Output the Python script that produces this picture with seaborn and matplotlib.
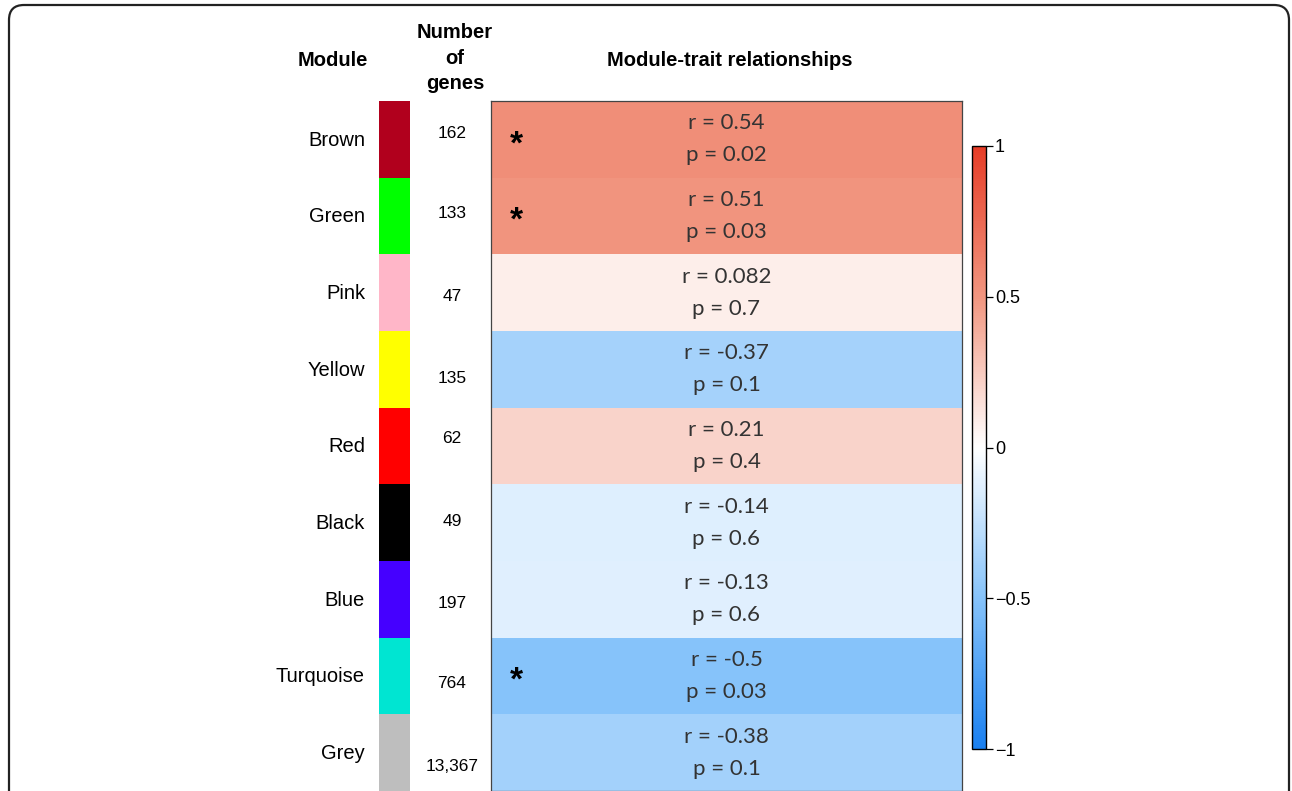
import numpy as np
import pandas as pd
import seaborn as sns
import matplotlib.pyplot as plt
from matplotlib.colors import LinearSegmentedColormap, ListedColormap
from matplotlib.patches import FancyBboxPatch
from matplotlib.transforms import blended_transform_factory

# data
modules = ["Brown", "Green", "Pink", "Yellow", "Red", "Black", "Blue", "Turquoise", "Grey"]
module_colors = ["#b1001d", "#00ff00", "#ffb6c8", "#ffff00", "#ff0000",
                 "#000000", "#4500ff", "#00e5d2", "#bebebe"]
gene_counts = ["162", "133", "47", "135", "62", "49", "197", "764", "13,367"]
r_values = [0.54, 0.51, 0.082, -0.37, 0.21, -0.14, -0.13, -0.5, -0.38]
p_values = [0.02, 0.03, 0.7, 0.1, 0.4, 0.6, 0.6, 0.03, 0.1]

# small vertical nudges (px) of the gene-count labels, as in the original
count_nudge_px = [-6, -2, 4, 9, -7, -1, 4, 8, 14]

sns.set_theme(style="white")
plt.rcParams["font.family"] = ["Liberation Sans", "DejaVu Sans"]
plt.rcParams["text.color"] = "black"

W, H = 1292, 791
def fx(px):
    return px / W
def fy(py):
    return 1 - py / H

fig = plt.figure(figsize=(W / 100, H / 100), dpi=100)
ax_hm = fig.add_axes([fx(491), 0, fx(962) - fx(491), fy(101)])
ax_strip = fig.add_axes([fx(379), 0, fx(410) - fx(379), fy(101)])
ax_cb = fig.add_axes([fx(972), fy(749), fx(986) - fx(972), fy(146) - fy(749)])

cmap = LinearSegmentedColormap.from_list(
    "bwr_soft",
    [(0.0, "#1a80f0"), (0.25, "#86c3fa"), (0.5, "#ffffff"),
     (0.75, "#f19680"), (1.0, "#e63d27")])

df = pd.DataFrame({"trait": r_values}, index=modules)
annot = np.array([[f"r = {r:g}\np = {p:g}"] for r, p in zip(r_values, p_values)])

sns.heatmap(df, ax=ax_hm, cmap=cmap, vmin=-1, vmax=1, annot=annot, fmt="",
            cbar_ax=ax_cb, xticklabels=False, yticklabels=False,
            annot_kws=dict(fontsize=16, color="#333333", family="Lato",
                           linespacing=1.75))
for sp in ax_hm.spines.values():
    sp.set_visible(True)
    sp.set_color("#444444")
    sp.set_linewidth(0.9)

# significance stars
for i, p in enumerate(p_values):
    if p < 0.05:
        ax_hm.text(0.053, i + 0.5 + 0.18, "*", fontsize=24, fontweight="bold",
                   ha="center", va="baseline", color="black")

# colour bar
cbar = ax_hm.collections[0].colorbar
cbar.set_ticks([-1, -0.5, 0, 0.5, 1])
cbar.set_ticklabels(["\u22121", "\u22120.5", "0", "0.5", "1"])
cbar.outline.set_edgecolor("black")
cbar.outline.set_linewidth(1.0)
ax_cb.tick_params(length=5, width=0.9, pad=1.5, labelsize=13, colors="black")

# module colour strip
strip = pd.DataFrame({"m": range(len(modules))}, index=modules)
sns.heatmap(strip, ax=ax_strip, cmap=ListedColormap(module_colors),
            vmin=-0.5, vmax=len(modules) - 0.5, cbar=False,
            xticklabels=False, yticklabels=False)

row_px = (H - 101) / len(modules)
trans = blended_transform_factory(fig.transFigure, ax_strip.transData)
for i, (name, n) in enumerate(zip(modules, gene_counts)):
    fig.text(fx(365), i + 0.5 + 1 / row_px, name, transform=trans,
             ha="right", va="center", fontsize=14.5)
    fig.text(fx(452), i + 0.5 + count_nudge_px[i] / row_px, n, transform=trans,
             ha="center", va="center", fontsize=12.5)

# headers
fig.text(fx(333), fy(61), "Module", ha="center", va="center",
         fontsize=14.5, fontweight="bold")
fig.text(fx(455), fy(58), "Number\nof\ngenes", ha="center", va="center",
         fontsize=14.5, fontweight="bold", linespacing=1.45)
fig.text(fx(730), fy(61), "Module-trait relationships", ha="center", va="center",
         fontsize=14.5, fontweight="bold")

# rounded frame around the panel
frame = FancyBboxPatch((fx(9), -0.1), fx(1289) - fx(9), fy(5) + 0.1,
                       boxstyle="round,pad=0,rounding_size=0.0116",
                       mutation_aspect=W / H, transform=fig.transFigure,
                       fill=False, ec="#222222", lw=1.6, clip_on=False)
fig.add_artist(frame)

fig.savefig("out.png", dpi=100)
